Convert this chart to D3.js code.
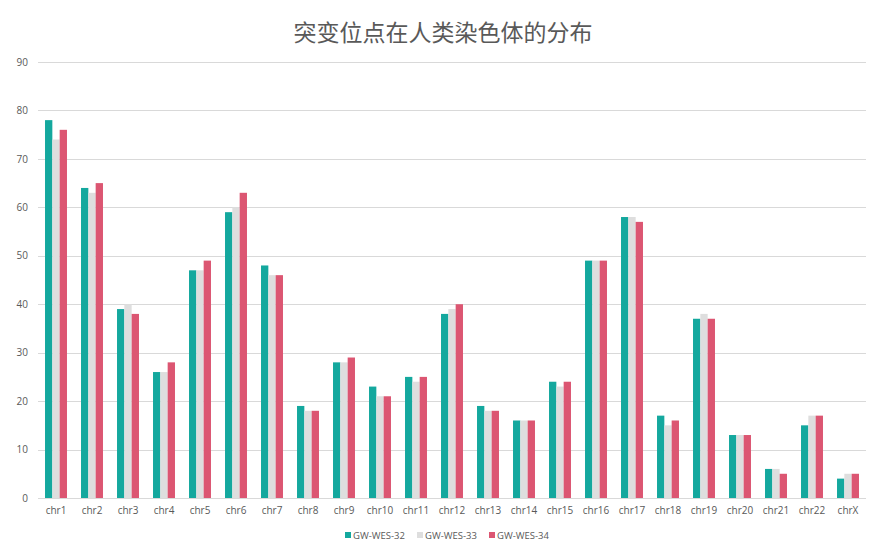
<!DOCTYPE html>
<html lang="zh">
<head>
  <meta charset="UTF-8">
  <title>突变位点在人类染色体的分布</title>
  <script src="https://cdn.jsdelivr.net/npm/d3@7"></script>
  <style>
    body { margin: 0; background: #fff; }
    text { font-family: "Open Sans", "Noto Sans CJK SC", sans-serif; }
  </style>
</head>
<body>
  <script>
    var categories = ["chr1","chr2","chr3","chr4","chr5","chr6","chr7","chr8","chr9","chr10","chr11","chr12",
                      "chr13","chr14","chr15","chr16","chr17","chr18","chr19","chr20","chr21","chr22","chrX"];
    var seriesNames = ["GW-WES-32", "GW-WES-33", "GW-WES-34"];
    var wes32 = [78,64,39,26,47,59,48,19,28,23,25,38,19,16,24,49,58,17,37,13,6,15,4];
    var wes33 = [74,63,40,26,47,60,46,18,28,21,24,39,18,16,23,49,58,15,38,13,6,17,5];
    var wes34 = [76,65,38,28,49,63,46,18,29,21,25,40,18,16,24,49,57,16,37,13,5,17,5];
    var yTicks = [0,10,20,30,40,50,60,70,80,90];
    var colors = ["#14a89e", "#dedede", "#dc5672"];

    var width = 885, height = 550;
    var margin = { top: 62, right: 19, bottom: 52, left: 38 };

    var svg = d3.select("body").append("svg")
      .attr("width", width)
      .attr("height", height);

    svg.append("text")
      .attr("x", 443)
      .attr("y", 41)
      .attr("text-anchor", "middle")
      .style("font-size", "23px")
      .style("font-family", "'Noto Sans CJK SC', sans-serif")
      .style("fill", "#595959")
      .text("突变位点在人类染色体的分布");

    var x = d3.scaleBand()
      .domain(categories)
      .range([margin.left, width - margin.right])
      .paddingInner(0.39)
      .paddingOuter(0.195);

    var x1 = d3.scaleBand()
      .domain(seriesNames)
      .range([0, x.bandwidth()]);

    var y = d3.scaleLinear()
      .domain([0, 90])
      .range([height - margin.bottom, margin.top]);

    // gridlines
    svg.append("g")
      .selectAll("line")
      .data(yTicks.slice(1))
      .enter()
      .append("line")
      .attr("x1", margin.left)
      .attr("x2", width - margin.right)
      .attr("y1", d => Math.round(y(d)) + 0.5)
      .attr("y2", d => Math.round(y(d)) + 0.5)
      .style("stroke", "#d9d9d9")
      .style("stroke-width", 1);

    var yAxis = svg.append("g")
      .attr("transform", "translate(" + (margin.left - 10) + ",0)")
      .call(d3.axisLeft(y).tickValues(yTicks).tickSize(0).tickPadding(0));
    yAxis.select(".domain").remove();
    yAxis.selectAll("text")
      .style("font-size", "10px")
      .style("fill", "#595959");

    var series = [wes32, wes33, wes34];
    var groups = svg.append("g")
      .selectAll("g")
      .data(series)
      .enter()
      .append("g")
      .style("fill", (d, i) => colors[i]);

    groups.each(function(vals, si) {
      d3.select(this).selectAll("rect")
        .data(vals)
        .enter()
        .append("rect")
        .attr("x", (d, i) => x(categories[i]) + x1(seriesNames[si]))
        .attr("y", d => y(d))
        .attr("width", x1.bandwidth())
        .attr("height", d => y(0) - y(d));
    });

    // baseline
    svg.append("line")
      .attr("x1", margin.left)
      .attr("x2", width - margin.right)
      .attr("y1", Math.round(y(0)) + 0.5)
      .attr("y2", Math.round(y(0)) + 0.5)
      .style("stroke", "#d9d9d9");

    var xAxis = svg.append("g")
      .attr("transform", "translate(0," + y(0) + ")")
      .call(d3.axisBottom(x).tickSize(0).tickPadding(9));
    xAxis.select(".domain").remove();
    xAxis.selectAll("text")
      .style("font-size", "10px")
      .style("fill", "#595959");

    // legend
    var legendX = [345, 417, 489];
    var legend = svg.append("g")
      .selectAll("g")
      .data(seriesNames)
      .enter()
      .append("g")
      .attr("transform", (d, i) => "translate(" + legendX[i] + ",535)");
    legend.append("rect")
      .attr("x", 0)
      .attr("y", -3)
      .attr("width", 6)
      .attr("height", 6)
      .style("fill", (d, i) => colors[i]);
    legend.append("text")
      .attr("x", 8)
      .attr("y", 3.5)
      .style("font-size", "9.5px")
      .style("fill", "#595959")
      .text(d => d);
  </script>
</body>
</html>
